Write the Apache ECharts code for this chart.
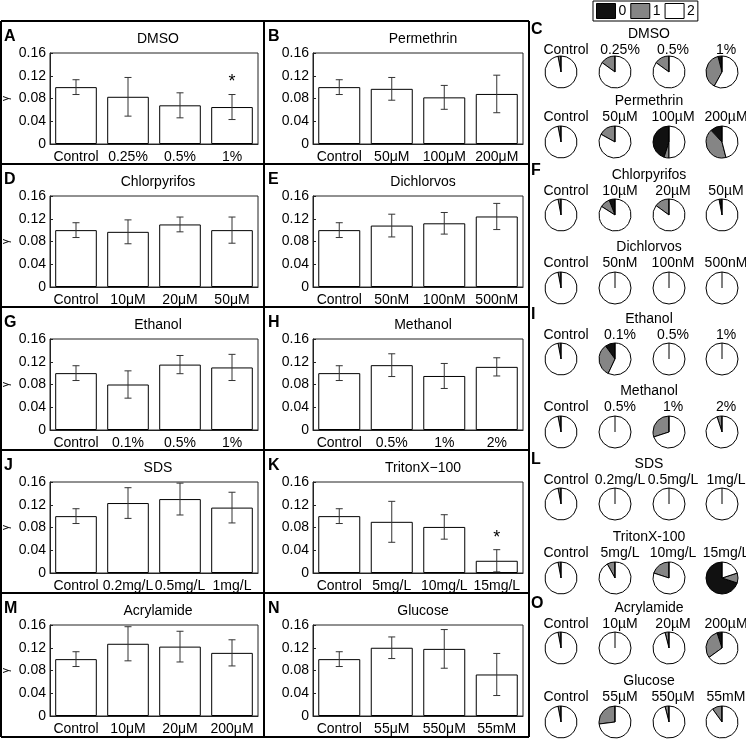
<!DOCTYPE html>
<html><head><meta charset="utf-8">
<script src="https://cdn.jsdelivr.net/npm/echarts@6/dist/echarts.min.js"></script>
<style>html,body{margin:0;padding:0;background:#fff}#c{width:746px;height:741px}</style>
</head><body><div id="c"></div>
<script>
// ---------- Bar panel data ----------
const titles = ['DMSO','Permethrin','Chlorpyrifos','Dichlorvos','Ethanol','Methanol','SDS','TritonX\u2212100','Acrylamide','Glucose'];
const letters = ['A','B','D','E','G','H','J','K','M','N'];
const catsDMSO = ['Control','0.25%','0.5%','1%'];
const catsPerm = ['Control','50\u03bcM','100\u03bcM','200\u03bcM'];
const catsChlor = ['Control','10\u03bcM','20\u03bcM','50\u03bcM'];
const catsDichl = ['Control','50nM','100nM','500nM'];
const catsEth = ['Control','0.1%','0.5%','1%'];
const catsMeth = ['Control','0.5%','1%','2%'];
const catsSDS = ['Control','0.2mg/L','0.5mg/L','1mg/L'];
const catsTriton = ['Control','5mg/L','10mg/L','15mg/L'];
const catsAcryl = ['Control','10\u03bcM','20\u03bcM','200\u03bcM'];
const catsGluc = ['Control','55\u03bcM','550\u03bcM','55mM'];

const meanDMSO = [0.100, 0.083, 0.068, 0.065];
const errDMSO  = [0.013, 0.034, 0.022, 0.022];
const sigDMSO  = [0, 0, 0, 1];
const meanPerm = [0.100, 0.097, 0.082, 0.088];
const errPerm  = [0.013, 0.020, 0.021, 0.033];
const sigPerm  = [0, 0, 0, 0];
const meanChlor = [0.100, 0.097, 0.110, 0.100];
const errChlor  = [0.013, 0.021, 0.013, 0.023];
const sigChlor  = [0, 0, 0, 0];
const meanDichl = [0.100, 0.108, 0.112, 0.124];
const errDichl  = [0.013, 0.020, 0.019, 0.023];
const sigDichl  = [0, 0, 0, 0];
const meanEth = [0.100, 0.080, 0.115, 0.110];
const errEth  = [0.013, 0.024, 0.016, 0.023];
const sigEth  = [0, 0, 0, 0];
const meanMeth = [0.100, 0.114, 0.095, 0.111];
const errMeth  = [0.013, 0.020, 0.022, 0.016];
const sigMeth  = [0, 0, 0, 0];
const meanSDS = [0.100, 0.123, 0.130, 0.115];
const errSDS  = [0.013, 0.027, 0.028, 0.027];
const sigSDS  = [0, 0, 0, 0];
const meanTriton = [0.100, 0.090, 0.081, 0.0215];
const errTriton  = [0.013, 0.036, 0.0215, 0.0195];
const sigTriton  = [0, 0, 0, 1];
const meanAcryl = [0.100, 0.127, 0.122, 0.111];
const errAcryl  = [0.013, 0.030, 0.027, 0.023];
const sigAcryl  = [0, 0, 0, 0];
const meanGluc = [0.100, 0.120, 0.118, 0.073];
const errGluc  = [0.013, 0.019, 0.034, 0.037];
const sigGluc  = [0, 0, 0, 0];

const yTicks = [0, 0.04, 0.08, 0.12, 0.16];

// ---------- Pie panel data: fractions of score 0 / 1 / 2 ----------
const pieLetters = ['C','F','I','L','O'];
const pieNames = ['0','1','2'];
const pieTitles = ['DMSO','Permethrin','Chlorpyrifos','Dichlorvos','Ethanol','Methanol','SDS','TritonX-100','Acrylamide','Glucose'];
const pieDMSO   = [[0,0.03,0.97],[0,0.15,0.85],[0,0.15,0.85],[0.04,0.38,0.58]];
const piePerm   = [[0,0.03,0.97],[0,0.17,0.83],[0.45,0.05,0.50],[0.12,0.42,0.46]];
const pieChlor  = [[0,0.03,0.97],[0.06,0.10,0.84],[0,0.15,0.85],[0.03,0,0.97]];
const pieDichl  = [[0,0.03,0.97],[0,0,1],[0,0,1],[0,0,1]];
const pieEth    = [[0,0.03,0.97],[0.10,0.33,0.57],[0,0,1],[0,0,1]];
const pieMeth   = [[0,0.03,0.97],[0,0,1],[0,0.30,0.70],[0,0.05,0.95]];
const pieSDS    = [[0,0.03,0.97],[0,0,1],[0,0,1],[0,0,1]];
const pieTriton = [[0,0.03,0.97],[0,0.08,0.92],[0,0.20,0.80],[0.70,0.10,0.20]];
const pieAcryl  = [[0,0.03,0.97],[0,0,1],[0,0.04,0.96],[0.05,0.30,0.65]];
const pieGluc   = [[0,0.03,0.97],[0,0.27,0.73],[0,0.04,0.96],[0,0.10,0.90]];

const allCats = [catsDMSO,catsPerm,catsChlor,catsDichl,catsEth,catsMeth,catsSDS,catsTriton,catsAcryl,catsGluc];
const allMean = [meanDMSO,meanPerm,meanChlor,meanDichl,meanEth,meanMeth,meanSDS,meanTriton,meanAcryl,meanGluc];
const allErr  = [errDMSO,errPerm,errChlor,errDichl,errEth,errMeth,errSDS,errTriton,errAcryl,errGluc];
const allSig  = [sigDMSO,sigPerm,sigChlor,sigDichl,sigEth,sigMeth,sigSDS,sigTriton,sigAcryl,sigGluc];
const allPie  = [pieDMSO,piePerm,pieChlor,pieDichl,pieEth,pieMeth,pieSDS,pieTriton,pieAcryl,pieGluc];

// ---------- Layout ----------
const FONT = 'Liberation Sans, Arial, Helvetica, sans-serif';
const pieColors = ['#111111','#858585','#ffffff'];
const boxTops = [21, 164, 307, 450, 593];
const boxBottom = 737;
const colLeft = [48, 313];
const plotW = 210, plotH = 91;
const plotTop0 = 53, rowPitch = 143;

const grids = [], xAxes = [], yAxes = [], series = [], titleArr = [], graphics = [];

for (let p = 0; p < 10; p++) {
  const row = Math.floor(p / 2), col = p % 2;
  const top = plotTop0 + rowPitch * row;
  grids.push({left: colLeft[col], top: top, width: plotW, height: plotH, show: true,
    borderColor: '#222', borderWidth: 1, backgroundColor: 'transparent'});
  xAxes.push({type: 'category', gridIndex: p, data: allCats[p],
    axisLine: {lineStyle: {color: '#222'}}, axisTick: {inside: true, alignWithLabel: true, length: 3, lineStyle: {color: '#222'}},
    axisLabel: {color: '#000', fontFamily: FONT, fontSize: 14, margin: 6, interval: 0}});
  yAxes.push({type: 'value', gridIndex: p, min: yTicks[0], max: yTicks[yTicks.length - 1], interval: 0.04,
    name: col === 0 ? '\u03b3' : '', nameLocation: 'middle', nameRotate: 90, nameGap: 39,
    nameTextStyle: {color: '#000', fontFamily: FONT, fontSize: 10},
    splitLine: {show: false}, axisLine: {show: true, lineStyle: {color: '#222'}},
    axisTick: {show: true, inside: true, length: 3, lineStyle: {color: '#222'}},
    axisLabel: {color: '#000', fontFamily: FONT, fontSize: 14, margin: 4}});
  series.push({type: 'bar', xAxisIndex: p, yAxisIndex: p, data: allMean[p], barWidth: '80%', silent: true,
    itemStyle: {color: '#fff', borderColor: '#000', borderWidth: 1}});
  const eb = allMean[p].map((m, i) => [i, m, allErr[p][i], allSig[p][i]]);
  series.push({type: 'custom', xAxisIndex: p, yAxisIndex: p, data: eb, silent: true, z: 5,
    renderItem: function (params, api) {
      const x = api.value(0), m = api.value(1), e = api.value(2), s = api.value(3);
      const t = api.coord([x, m + e]), b = api.coord([x, m - e]);
      const hw = 3.5;
      const st = {stroke: '#333', lineWidth: 1};
      const ch = [
        {type: 'line', shape: {x1: t[0], y1: t[1], x2: b[0], y2: b[1]}, style: st},
        {type: 'line', shape: {x1: t[0] - hw, y1: t[1], x2: t[0] + hw, y2: t[1]}, style: st},
        {type: 'line', shape: {x1: b[0] - hw, y1: b[1], x2: b[0] + hw, y2: b[1]}, style: st}
      ];
      if (s) ch.push({type: 'text', style: {text: '*', x: t[0], y: t[1] - 3, textAlign: 'center', textVerticalAlign: 'bottom',
        font: '18px ' + FONT, fill: '#000'}});
      return {type: 'group', children: ch};
    }});
  titleArr.push({text: titles[p], left: colLeft[col] + plotW / 2, top: top - 26, textAlign: 'center',
    textStyle: {fontFamily: FONT, fontSize: 14, fontWeight: 'normal', color: '#000'}});
  graphics.push({type: 'text', left: col === 0 ? 4 : 268, top: boxTops[row] + 8,
    style: {text: letters[p], font: 'bold 16px ' + FONT, fill: '#000'}});
}

// boxes around bar panels
const lineSt = {stroke: '#000', lineWidth: 2};
boxTops.concat([boxBottom]).forEach(y => graphics.push({type: 'line', shape: {x1: 1, y1: y, x2: 529, y2: y}, style: lineSt}));
[1, 264, 529].forEach(x => graphics.push({type: 'line', shape: {x1: x, y1: boxTops[0], x2: x, y2: boxBottom}, style: lineSt}));

// pies
const pieX = [561, 615, 669, 722];
const labelX = [561, 615, 668, 721];
const pieR = 16;
const pieRow1Y = [30, 171, 315, 460, 604];
const pieRow2Y = [97, 243, 387, 533, 677];
const pieGap1 = [42, 44, 44, 44, 44];
const pieGap2 = [45, 45, 45, 45, 45];
for (let g = 0; g < 5; g++) {
  graphics.push({type: 'text', left: 531, top: pieRow1Y[g] - 8, style: {text: pieLetters[g], font: 'bold 16px ' + FONT, fill: '#000'}});
  for (let r = 0; r < 2; r++) {
    const k = g * 2 + r;
    const ty = r ? pieRow2Y[g] : pieRow1Y[g];
    const py = ty + (r ? pieGap2[g] : pieGap1[g]);
    titleArr.push({text: pieTitles[k], left: 644, top: ty - 8, textAlign: 'center',
      textStyle: {fontFamily: FONT, fontSize: 14, fontWeight: 'normal', color: '#000'}});
    for (let j = 0; j < 4; j++) {
      titleArr.push({text: allCats[k][j].replace('\u03bc', 'µ'), left: labelX[j], top: ty + 8, textAlign: 'center',
        textStyle: {fontFamily: FONT, fontSize: 14, fontWeight: 'normal', color: '#000'}});
      series.push({type: 'pie', center: [pieX[j], py], radius: pieR, startAngle: 90, clockwise: false,
        silent: true, label: {show: false}, labelLine: {show: false}, emphasis: {disabled: true},
        itemStyle: {borderColor: '#000', borderWidth: 1},
        data: allPie[k][j].map((v, i) => ({name: pieNames[i], value: v, itemStyle: {color: pieColors[i]}}))});
      // radial edge at the start angle (top), as drawn by the original software
      graphics.push({type: 'line', z: 100, shape: {x1: pieX[j], y1: py - pieR, x2: pieX[j], y2: py},
        style: {stroke: '#000', lineWidth: 1}});
    }
  }
}

const chart = echarts.init(document.getElementById('c'), null, {renderer: 'canvas'});
chart.setOption({
  animation: false,
  backgroundColor: '#fff',
  title: titleArr,
  legend: {data: pieNames, left: 593, top: 1, selectedMode: false, icon: 'rect', itemWidth: 19, itemHeight: 15,
    itemGap: 4, padding: [2, 3, 2, 3], borderColor: '#000', borderWidth: 1,
    textStyle: {fontFamily: FONT, fontSize: 14, color: '#000', padding: [0, 0, 0, -2]},
    itemStyle: {borderColor: '#000', borderWidth: 1}},
  grid: grids, xAxis: xAxes, yAxis: yAxes, series: series, graphic: graphics
});
</script></body></html>
